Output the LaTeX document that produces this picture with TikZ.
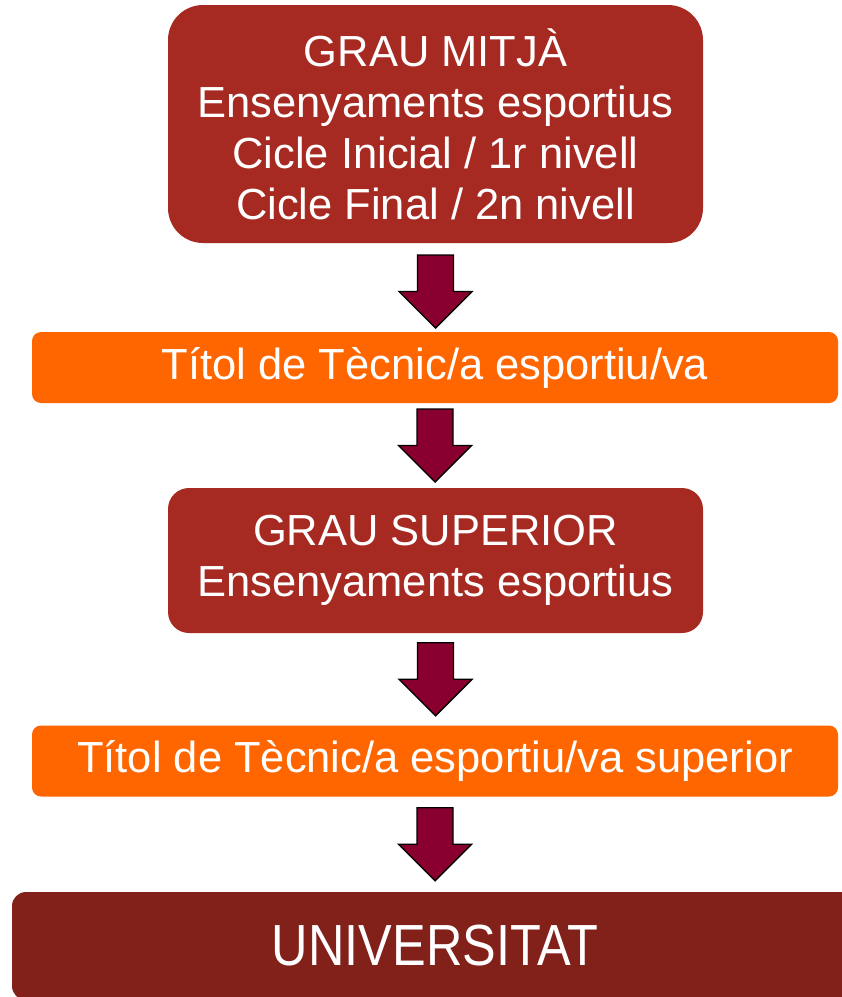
\documentclass[tikz,border=0pt]{standalone}
\usepackage{fontspec}
\setmainfont{Liberation Sans}
\usetikzlibrary{calc}
\definecolor{boxred}{RGB}{166,42,33}
\definecolor{boxorange}{RGB}{255,102,0}
\definecolor{unired}{RGB}{130,32,26}
\definecolor{arrowfill}{RGB}{137,0,48}
\tikzset{
  redbox/.style={fill=boxred, text=white, align=center, inner sep=0pt,
    minimum width=535pt, font=\fontsize{43.5}{51}\selectfont},
  orangebox/.style={fill=boxorange, text=white, align=center, inner sep=0pt,
    minimum width=806pt, minimum height=71pt, rounded corners=9pt,
    font=\fontsize{43.5}{51}\selectfont},
  unibox/.style={fill=unired, text=white, align=center, inner sep=0pt,
    minimum width=846pt, minimum height=108pt, rounded corners=14pt,
    font=\fontsize{58}{60}\selectfont},
  blockarrow/.style={fill=arrowfill, draw=black, line width=1.4pt, line join=miter}
}
\newcommand\flowarrow[3]{%
  \draw[blockarrow] let \p1=(#1.south), \p2=(#2.north),
    \n1={(\y1+\y2)/2+#3} in
    (\x1-18pt,\n1+36.5pt) -- (\x1+18pt,\n1+36.5pt) -- (\x1+18pt,\n1) --
    (\x1+36.5pt,\n1) -- (\x1,\n1-36.5pt) -- (\x1-36.5pt,\n1) --
    (\x1-18pt,\n1) -- cycle;}
\begin{document}
\begin{tikzpicture}[x=1pt,y=1pt]
\useasboundingbox (0,0) rectangle (842,-997);
\clip (0,0) rectangle (842,-997);
\node[redbox, minimum height=238pt, rounded corners=35pt] (mitja) at (435.5,-124)
  {GRAU MITJÀ\\Ensenyaments esportius\\Cicle Inicial / 1r nivell\\Cicle Final / 2n nivell};
\node[orangebox] (tecnic) at (435,-367.5) {Títol de Tècnic/a esportiu/va};
\node[redbox, minimum height=145pt, rounded corners=21pt] (superior) at (435.5,-560.5)
  {GRAU SUPERIOR\\Ensenyaments esportius};
\node[orangebox] (tecnicsup) at (435,-761) {Títol de Tècnic/a esportiu/va superior};
\node[unibox] (uni) at (435,-946) {\scalebox{0.87}[1]{UNIVERSITAT}};
\flowarrow{mitja}{tecnic}{-4pt}
\flowarrow{tecnic}{superior}{0pt}
\flowarrow{superior}{tecnicsup}{0pt}
\flowarrow{tecnicsup}{uni}{0pt}
\end{tikzpicture}
\end{document}
